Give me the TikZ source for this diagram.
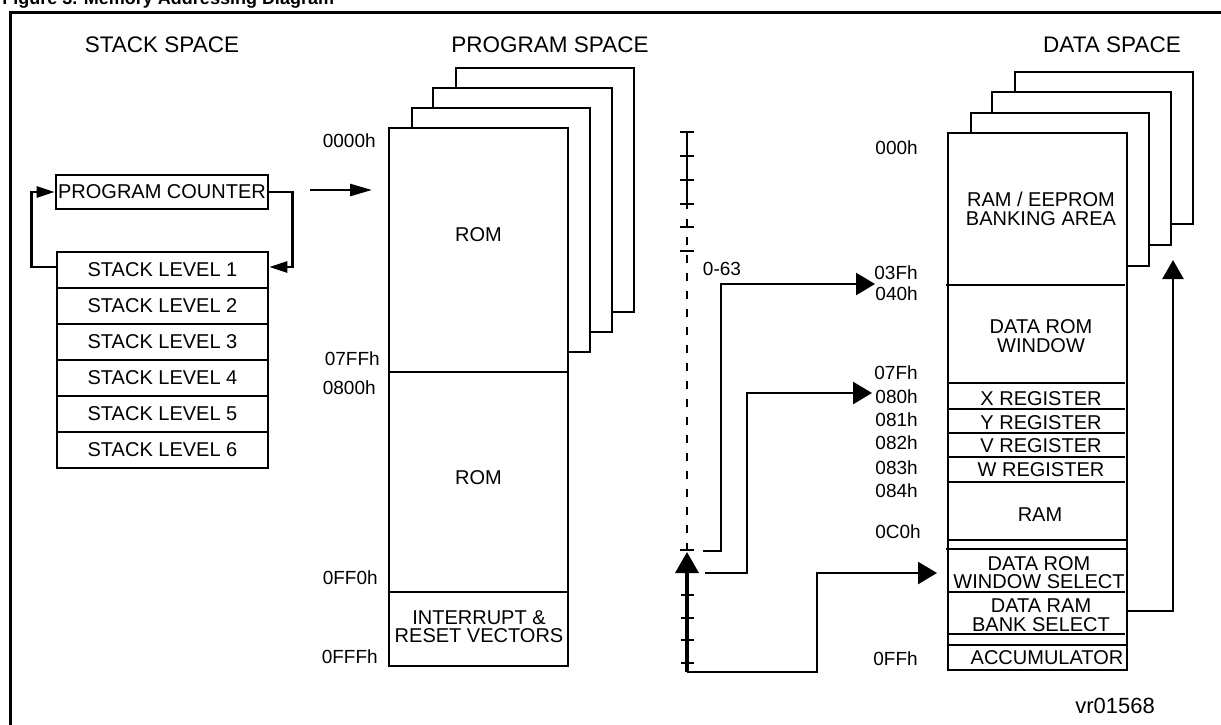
\documentclass[tikz,border=0pt]{standalone}
\usepackage{fontspec}
\setmainfont{Liberation Sans}
\usetikzlibrary{arrows.meta}
\begin{document}
\begin{tikzpicture}[x=1pt,y=-1pt,line width=2.6pt,
  lbl/.style={font=\fontsize{20}{18.5}\selectfont,inner sep=0pt,align=center},
  head/.style={font=\fontsize{22.5}{24}\selectfont,inner sep=0pt},
  addr/.style={font=\fontsize{19}{20}\selectfont,inner sep=0pt,anchor=east},
  cell/.style={draw,lbl,minimum width=211pt,minimum height=36pt},
  smallarr/.style={-{Triangle[length=18pt,width=11pt]}},
  bigarr/.style={-{Triangle[length=19pt,width=22pt]}},
  tick/.style={line width=2.4pt}]
\useasboundingbox (0,0) rectangle (1221,725);
% frame and title
\draw[line width=3pt] (10,760) -- (10,13) -- (1240,13);
\node[anchor=base west,inner sep=0pt,font=\bfseries\fontsize{18}{18}\selectfont] (title) at (1,5) {Figure 3. Memory Addressing Diagram};
% headings
\node[head] (hstack) at (162,45) {STACK SPACE};
\node[head] (hprog) at (550,45) {PROGRAM SPACE};
\node[head] (hdata) at (1112,45) {DATA SPACE};
% stack space
\node[draw,lbl,minimum width=212pt,minimum height=34pt] (pc) at (162,192) {PROGRAM COUNTER};
\node[cell] (sl1) at (162.5,270) {STACK LEVEL 1};
\node[cell] (sl2) at (162.5,306) {STACK LEVEL 2};
\node[cell] (sl3) at (162.5,342) {STACK LEVEL 3};
\node[cell] (sl4) at (162.5,378) {STACK LEVEL 4};
\node[cell] (sl5) at (162.5,414) {STACK LEVEL 5};
\node[cell] (sl6) at (162.5,450) {STACK LEVEL 6};
\draw[smallarr] ([yshift=3pt]sl1.west) -- ++(-24,0) |- (pc.west);
\draw[smallarr] (pc.east) -- ++(23,0) |- ([yshift=3pt]sl1.east);
\coordinate (pcs) at (310,190);
\coordinate (pct) at (372,190);
\draw[-{Triangle[length=22pt,width=12pt]}] (pcs) -- (pct);
% program space pages
\draw (456,88) -- (456,68) -- (634,68) -- (634,312) -- (612,312);
\draw (433,108) -- (433,88) -- (612,88) -- (612,332) -- (590,332);
\draw (412,128) -- (412,108) -- (590,108) -- (590,352) -- (568,352);
\draw (389,128) rectangle (568,666);
\draw (389,372) -- (568,372);
\draw (389,592) -- (568,592);
\node[lbl] (rom1) at (478.5,235) {ROM};
\node[lbl] (rom2) at (478.5,478) {ROM};
\node[lbl] (vec) at (479,626.5) {INTERRUPT \&\\RESET VECTORS};
\node[addr] (a0000) at (377,141) {0000h};
\node[addr] (a07ff) at (381,359) {07FFh};
\node[addr] (a0800) at (377,388) {0800h};
\node[addr] (a0ff0) at (379,578) {0FF0h};
\node[addr] (a0fff) at (379,657) {0FFFh};
% middle axis
\draw (687,132) -- (687,204);
\draw[dash pattern=on 8pt off 10pt,dash phase=-15pt] (687,204) -- (687,549);
\foreach \yy in {132,156,180,204,227,251,550}
  \draw[tick] (680,\yy) -- (694,\yy);
\foreach \yy in {595,618,640,663}
  \draw[tick] (681,\yy) -- (694,\yy);
\coordinate (axbot) at (687,672);
\coordinate (axtip) at (687,552);
\draw[line width=3.4pt,-{Triangle[length=21pt,width=23pt]}] (axbot) -- (axtip);
\node[font=\fontsize{19}{20}\selectfont,inner sep=0pt] (range) at (722,269) {0-63};
\coordinate (s1) at (703,551);
\coordinate (t1) at (875,284);
\coordinate (s2) at (705,573);
\coordinate (t2) at (872,393);
\coordinate (t3) at (937,573);
\draw[bigarr] (s1) -- ++(18,0) |- (t1);
\draw[bigarr] (s2) -- ++(42,0) |- (t2);
\draw[bigarr] (axbot) -- ++(130,0) |- (t3);
% data space pages
\draw (1015,92) -- (1015,72) -- (1193,72) -- (1193,224) -- (1171,224);
\draw (992,113) -- (992,92) -- (1171,92) -- (1171,245) -- (1149,245);
\draw (971,133) -- (971,113) -- (1149,113) -- (1149,266) -- (1127,266);
\draw (948,133) rectangle (1127,670);
\draw (946,285) -- (1125,285);
\foreach \yy in {383,409,433,457,482,592,634}
  \draw (948,\yy) -- (1125,\yy);
\draw (948,540) -- (1127,540);
\draw (946,549) -- (1127,549);
\draw (948,645) -- (1127,645);
\node[lbl] (dbank) at (1041,209) {RAM / EEPROM\\BANKING AREA};
\node[lbl] (dwin) at (1041,336) {DATA ROM\\WINDOW};
\node[lbl] (xreg) at (1041,399) {X REGISTER};
\node[lbl] (yreg) at (1041,423) {Y REGISTER};
\node[lbl] (vreg) at (1041,446) {V REGISTER};
\node[lbl] (wreg) at (1041,470) {W REGISTER};
\node[lbl] (ram) at (1040,515) {RAM};
\node[lbl] (dsel) at (1039,572.5) {DATA ROM\\WINDOW SELECT};
\node[lbl] (bsel) at (1041,615) {DATA RAM\\BANK SELECT};
\node[lbl] (acc) at (1047,658) {ACCUMULATOR};
\node[addr] (d000) at (919,148) {000h};
\node[addr] (d03f) at (919,273) {03Fh};
\node[addr] (d040) at (919,294) {040h};
\node[addr] (d07f) at (919,373) {07Fh};
\node[addr] (d080) at (919,397) {080h};
\node[addr] (d081) at (919,420) {081h};
\node[addr] (d082) at (919,443) {082h};
\node[addr] (d083) at (919,468) {083h};
\node[addr] (d084) at (919,491) {084h};
\node[addr] (d0c0) at (922,532) {0C0h};
\node[addr] (d0ff) at (919,659) {0FFh};
\coordinate (bs) at (1127,611);
\coordinate (bt) at (1173,260);
\draw[-{Triangle[length=19pt,width=21pt]}] (bs) -| (bt);
\node[font=\fontsize{22}{22}\selectfont,inner sep=0pt] (ref) at (1115,706) {vr01568};
\end{tikzpicture}
\end{document}
